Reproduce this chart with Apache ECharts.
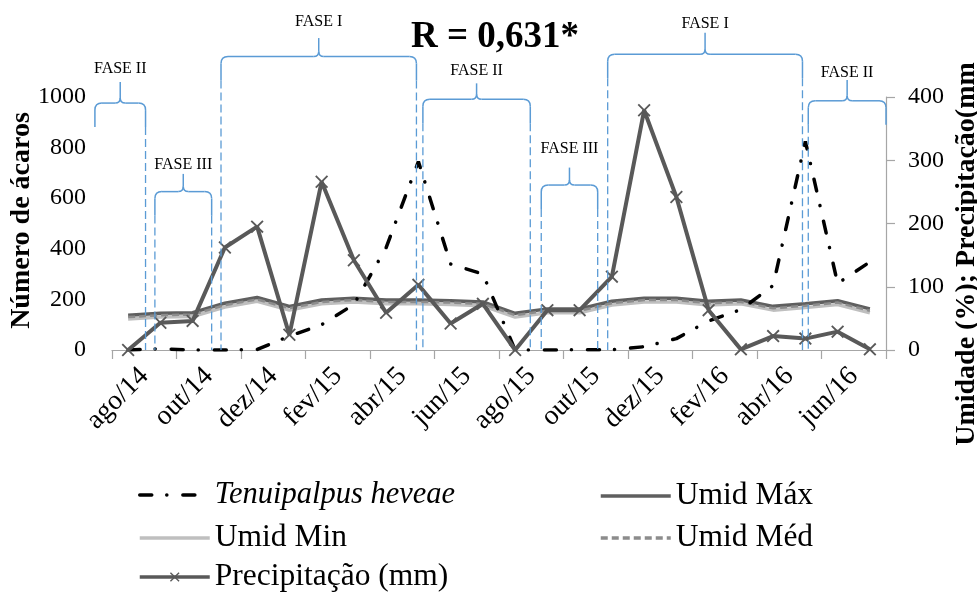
<!DOCTYPE html>
<html><head><meta charset="utf-8">
<script src="https://cdn.jsdelivr.net/npm/echarts@6/dist/echarts.min.js"></script>
<style>html,body{margin:0;padding:0;background:#fff}#c{width:977px;height:594px}</style>
</head><body><div id="c"></div>
<script>
// ---- data ----
const months = ['ago/14','set/14','out/14','nov/14','dez/14','jan/15','fev/15','mar/15','abr/15','mai/15','jun/15','jul/15','ago/15','set/15','out/15','nov/15','dez/15','jan/16','fev/16','mar/16','abr/16','mai/16','jun/16','jul/16'];
const tickLabels = ['ago/14','out/14','dez/14','fev/15','abr/15','jun/15','ago/15','out/15','dez/15','fev/16','abr/16','jun/16'];
const tenuipalpus = [0,5,0,0,2,55,100,180,405,745,340,300,0,0,1,1,13,45,115,160,255,825,263,348];
const umidMax = [55,58,59,74,83,69,79,82,79,79,78,76,58,65,65,77,82,82,77,79,69,73,78,65];
const umidMed = [52,55,56,71,80,66,76,79,76,76,75,73,55,62,62,74,79,79,74,76,66,70,75,62];
const umidMin = [49,52,53,68,77,63,73,76,73,73,72,70,52,59,59,71,76,76,71,73,63,67,72,59];
const precip = [0,43,46,162,195,24,266,142,59,103,42,73,0,63,63,116,379,242,63,1,22,18,29,1];
const leftTicks = {min:0, max:1000, interval:200};
const rightTicks = {min:0, max:400, interval:100};
// phase annotations: span in month units (0..24), heights in left-axis units
const phases = [
  {label:'FASE II',  u0:-0.53, u1:1.04,  top:976,  tip:1059, text:1111, inL:false, inR:true},
  {label:'FASE III', u0:1.33,  u1:3.09,  top:626,  tip:696,  text:731,  inL:true,  inR:true},
  {label:'FASE I',   u0:3.38,  u1:9.44,  top:1160, tip:1233, text:1296, inL:true,  inR:true},
  {label:'FASE II',  u0:9.64,  u1:12.97, top:991,  tip:1054, text:1103, inL:true,  inR:true},
  {label:'FASE III', u0:13.31, u1:15.06, top:652,  tip:721,  text:794,  inL:true,  inR:true},
  {label:'FASE I',   u0:15.37, u1:21.41, top:1169, tip:1254, text:1291, inL:true,  inR:true},
  {label:'FASE II',  u0:21.59, u1:24.0,  top:985,  tip:1067, text:1096, inL:true,  inR:false}
];

const SERIF = 'Liberation Serif';
const xSym = 'path://M0,1L1,0L5,4L9,0L10,1L6,5L10,9L9,10L5,6L1,10L0,9L4,5Z';
const chart = echarts.init(document.getElementById('c'));
const axisGrey = '#a6a6a6';
const legendText = {fontFamily: SERIF, fontSize: 31.5, color: '#000'};
function oneLegend(left, top, item) {
  return {left: left, top: top, orient: 'horizontal', padding: 0, itemWidth: 70, itemHeight: 12,
    selectedMode: false, textStyle: legendText, lineStyle: {width: 3.5}, data: [item]};
}
const option = {
  animation: false,
  backgroundColor: '#fff',
  title: {text: 'R = 0,631*', left: 406, top: 14,
    textStyle: {fontFamily: SERIF, fontWeight: 'bold', fontSize: 37, color: '#000'}},
  grid: {left: 112, right: 91, top: 97, bottom: 244, containLabel: false, outerBoundsMode: 'none'},
  legend: [
    oneLegend(138, 480, {name: 'Tenuipalpus heveae', textStyle: {fontStyle: 'italic', fontSize: 30.5}, itemStyle: {opacity: 0}}),
    oneLegend(138, 522, {name: 'Umid Min', itemStyle: {opacity: 0}}),
    oneLegend(138, 561, {name: 'Precipitação (mm)'}),
    oneLegend(599, 480, {name: 'Umid Máx', itemStyle: {opacity: 0}}),
    oneLegend(599, 522, {name: 'Umid Méd', itemStyle: {opacity: 0}})
  ],
  xAxis: [
    {type: 'category', data: months, boundaryGap: true, show: false},
    {type: 'category', data: tickLabels, boundaryGap: true, position: 'bottom',
     axisLine: {show: true, lineStyle: {color: axisGrey, width: 1.2}},
     axisTick: {show: true, interval: 0, length: 9, lineStyle: {color: axisGrey, width: 1.2}},
     axisLabel: {interval: 0, rotate: 45, margin: 22, padding: [10, 0, 0, 0],
       fontFamily: SERIF, fontSize: 27.5, color: '#000'},
     splitLine: {show: false}},
    {type: 'value', min: 0, max: 24, show: false}
  ],
  yAxis: [
    {type: 'value', min: leftTicks.min, max: leftTicks.max, interval: leftTicks.interval,
     axisLine: {show: false}, axisTick: {show: false}, splitLine: {show: false},
     axisLabel: {margin: 26, fontFamily: SERIF, fontSize: 24, color: '#000', formatter: v => String(v)},
     name: 'Número de ácaros', nameLocation: 'middle', nameRotate: 90, nameGap: 76, nameMoveOverlap: false,
     nameTextStyle: {fontFamily: SERIF, fontWeight: 'bold', fontSize: 28, color: '#000', padding: [0, 0, 0, 6]}},
    {type: 'value', position: 'right', min: rightTicks.min, max: rightTicks.max, interval: rightTicks.interval,
     axisLine: {show: true, lineStyle: {color: axisGrey, width: 1.2}},
     axisTick: {show: true, length: 9, lineStyle: {color: axisGrey, width: 1.2}}, splitLine: {show: false},
     axisLabel: {margin: 22, fontFamily: SERIF, fontSize: 24, color: '#000', formatter: v => String(v)},
     name: 'Umidade (%); Precipitação(mm', nameLocation: 'middle', nameRotate: 90, nameGap: 67, nameMoveOverlap: false,
     nameTextStyle: {fontFamily: SERIF, fontWeight: 'bold', fontSize: 28, color: '#000', padding: [0, 61, 0, 0]}}
  ],
  series: [
    {name: 'Umid Min', type: 'line', xAxisIndex: 0, yAxisIndex: 1, data: umidMin, symbol: 'none',
     lineStyle: {color: '#bfbfbf', width: 3.5}, itemStyle: {color: '#bfbfbf'}, z: 2},
    {name: 'Umid Méd', type: 'line', xAxisIndex: 0, yAxisIndex: 1, data: umidMed, symbol: 'none',
     lineStyle: {color: '#8c8c8c', width: 2.5, type: [7, 4]}, itemStyle: {color: '#8c8c8c'}, z: 3},
    {name: 'Umid Máx', type: 'line', xAxisIndex: 0, yAxisIndex: 1, data: umidMax, symbol: 'none',
     lineStyle: {color: '#5f5f5f', width: 3.5}, itemStyle: {color: '#5f5f5f'}, z: 2.5},
    {name: 'Tenuipalpus heveae', type: 'line', xAxisIndex: 0, yAxisIndex: 0, data: tenuipalpus, symbol: 'none',
     lineStyle: {color: '#000', width: 3.5, type: [12, 15, 0.1, 16], cap: 'round'}, itemStyle: {color: '#000'}, z: 4},
    {name: 'Precipitação (mm)', type: 'line', xAxisIndex: 0, yAxisIndex: 1, data: precip,
     symbol: xSym, symbolSize: 13, showAllSymbol: true,
     lineStyle: {color: '#595959', width: 4}, itemStyle: {color: '#595959'}, z: 5}
  ]
};
chart.setOption(option);

// ---- phase braces, placed through the axes ----
const X = u => chart.convertToPixel({xAxisIndex: 2}, u);
const Y = v => chart.convertToPixel({yAxisIndex: 0}, v);
const blue = '#5b9bd5';
const braceStyle = {stroke: blue, fill: null, lineWidth: 1.5};
const elems = [];
const base = Y(0);
function seg(ax, ay, bx, by) {
  elems.push({type: 'line', shape: {x1: ax, y1: ay, x2: bx, y2: by}, style: braceStyle, z: 10, silent: true});
}
function curve(ax, ay, cx, cy, bx, by) {
  elems.push({type: 'bezierCurve', shape: {x1: ax, y1: ay, cpx1: cx, cpy1: cy, x2: bx, y2: by},
    style: braceStyle, z: 10, silent: true});
}
phases.forEach(p => {
  const x0 = X(p.u0), x1 = X(p.u1), xc = (x0 + x1) / 2;
  const top = Y(p.top), tip = Y(p.tip), ty = Y(p.text);
  const r = 7, r2 = 5, solid = 24;
  seg(x0, top + solid, x0, top + r);
  curve(x0, top + r, x0, top, x0 + r, top);
  seg(x0 + r, top, xc - r2, top);
  curve(xc - r2, top, xc, top, xc, top - r2);
  seg(xc, top - r2, xc, tip);
  curve(xc, top - r2, xc, top, xc + r2, top);
  seg(xc + r2, top, x1 - r, top);
  curve(x1 - r, top, x1, top, x1, top + r);
  seg(x1, top + r, x1, top + solid);
  if (p.inL) elems.push({type: 'line', shape: {x1: x0, y1: top + solid, x2: x0, y2: base},
    style: {stroke: blue, lineWidth: 1.3, lineDash: [8, 4]}, z: 10, silent: true});
  if (p.inR) elems.push({type: 'line', shape: {x1: x1, y1: top + solid, x2: x1, y2: base},
    style: {stroke: blue, lineWidth: 1.3, lineDash: [8, 4]}, z: 10, silent: true});
  elems.push({type: 'text', x: xc, y: ty, style: {text: p.label, fill: '#000', fontFamily: SERIF, fontSize: 16,
    align: 'center', verticalAlign: 'middle'}, z: 10, silent: true});
});
chart.setOption({graphic: elems});
</script>
</body></html>
